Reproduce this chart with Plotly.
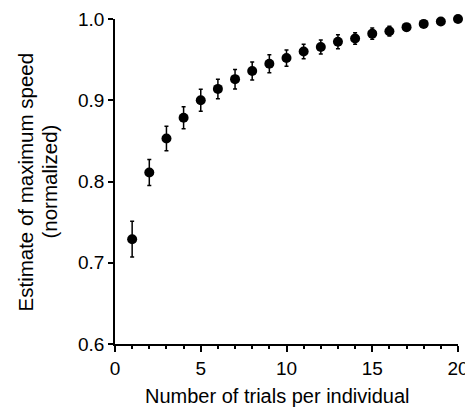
import plotly.graph_objects as go

trials = list(range(1, 21))
estimate = [0.729, 0.811, 0.853, 0.8785, 0.900, 0.914, 0.926, 0.936, 0.945, 0.952,
            0.960, 0.9655, 0.972, 0.976, 0.982, 0.985, 0.990, 0.994, 0.997, 1.000]
error = [0.022, 0.016, 0.015, 0.0135, 0.0135, 0.012, 0.012, 0.011, 0.011, 0.010,
         0.009, 0.0087, 0.0085, 0.007, 0.007, 0.006, 0.004, 0.003, 0.002, 0.0]

x_ticks = [0, 5, 10, 15, 20]
y_ticks = [0.6, 0.7, 0.8, 0.9, 1.0]
y_tick_labels = ["0.6", "0.7", "0.8", "0.9", "1.0"]

x_title = "Number of trials per individual"
y_title_lines = ["Estimate of maximum speed", "(normalized)"]

fig = go.Figure()
fig.add_trace(go.Scatter(
    x=trials, y=estimate, mode="markers",
    marker=dict(color="black", size=10),
    error_y=dict(type="data", array=error, visible=True, color="black",
                 thickness=1.5, width=2),
    cliponaxis=False, showlegend=False,
))

family = "Liberation Sans, Arial, sans-serif"
# page body has an 8px default margin, so the figure is sized/offset to compensate
fig.update_layout(
    width=465, height=399,
    margin=dict(l=107, r=15, t=11, b=63, autoexpand=False),
    paper_bgcolor="white", plot_bgcolor="white",
    font=dict(family=family, size=19, color="black"),
    xaxis=dict(
        range=[0, 20], tickvals=x_ticks, ticks="outside", ticklen=6, tickwidth=1.5,
        tickcolor="black", showline=True, linecolor="black", linewidth=1.5,
        showgrid=False, zeroline=False, automargin=False,
        minor=dict(dtick=1, ticks="outside", ticklen=3, tickwidth=1.5, tickcolor="black", showgrid=False),
    ),
    yaxis=dict(
        range=[0.6, 1.0], tickvals=y_ticks, ticktext=y_tick_labels, ticks="outside",
        ticklen=5, tickwidth=1.5, tickcolor="black", showline=True, linecolor="black",
        linewidth=1.5, showgrid=False, zeroline=False, automargin=False,
    ),
)

fig.add_annotation(text=x_title, xref="paper", yref="paper", x=0.4738, y=-0.16,
                   xanchor="center", yanchor="middle", showarrow=False,
                   font=dict(family=family, size=20, color="black"))
fig.add_annotation(text=y_title_lines[0], xref="paper", yref="paper", x=-0.2595, y=0.5,
                   xanchor="center", yanchor="middle", showarrow=False, textangle=-90,
                   font=dict(family=family, size=20.5, color="black"))
fig.add_annotation(text=y_title_lines[1], xref="paper", yref="paper", x=-0.1924, y=0.5,
                   xanchor="center", yanchor="middle", showarrow=False, textangle=-90,
                   font=dict(family=family, size=20.5, color="black"))

fig.write_html("out.html")
